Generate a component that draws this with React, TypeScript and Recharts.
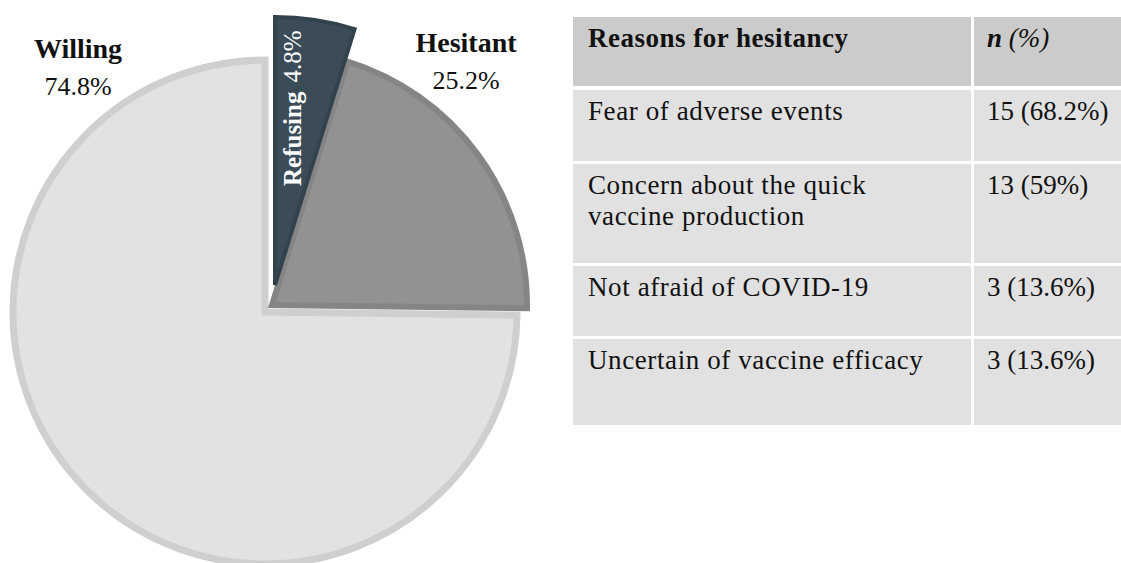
import { Cell, Pie, PieChart } from "recharts";

// pie slices, clockwise from 12 o'clock
const sliceNames = ["Refusing", "Hesitant", "Willing"];
const sliceValues = [4.8, 20.4, 74.8];
const sliceLabels = ["4.8%", "25.2%", "74.8%"];

// table on the right
const tableHeader = ["Reasons for hesitancy", "n", "(%)"];
const reasonLabels = [
  "Fear of adverse events",
  "Concern about the quick\nvaccine production",
  "Not afraid of COVID-19",
  "Uncertain of vaccine efficacy",
];
const reasonCounts = [15, 13, 3, 3];
const reasonPercents = ["68.2%", "59%", "13.6%", "13.6%"];

const FONT = "'Palatino Linotype', 'Book Antiqua', Palatino, 'Liberation Serif', serif";

const pieData = sliceNames.map((name, i) => ({ name, value: sliceValues[i], label: sliceLabels[i] }));

// each slice is drawn by its own Pie so it can be pulled out of the centre
const sliceStyle = [
  { cx: 275, cy: 285, r: 268, fill: "#3b4c58", stroke: "#33434e", sw: 4 },
  { cx: 272, cy: 305, r: 255, fill: "#929292", stroke: "#858585", sw: 6 },
  { cx: 265, cy: 312, r: 252, fill: "#e2e2e2", stroke: "#cfcfcf", sw: 7 },
];

const labelPos: Record<string, { x: number; y: number }> = {
  Refusing: { x: 301, y: 186 },
  Hesitant: { x: 466, y: 52 },
  Willing: { x: 78, y: 58 },
};

const renderLabel = (visible: number) => (props: any) => {
  if (props.index !== visible) return null;
  const name = props.name ?? props.payload?.name;
  const text = props.payload?.label ?? sliceLabels[visible];
  const pos = labelPos[name];
  if (!pos) return null;
  if (name === "Refusing") {
    return (
      <text
        x={pos.x}
        y={pos.y}
        transform={`rotate(-90 ${pos.x} ${pos.y})`}
        fill="#ffffff"
        fontFamily={FONT}
        fontSize={25}
        textAnchor="start"
      >
        <tspan fontWeight="bold">{name}</tspan>
        <tspan dx={9}>{text}</tspan>
      </text>
    );
  }
  return (
    <text x={pos.x} y={pos.y} fill="#111" fontFamily={FONT} textAnchor="middle">
      <tspan x={pos.x} fontWeight="bold" fontSize={28}>
        {name}
      </tspan>
      <tspan x={pos.x} dy={37} fontSize={26}>
        {text}
      </tspan>
    </text>
  );
};

const rowBounds = [
  [17, 86],
  [90, 161],
  [164, 263],
  [266, 336],
  [339, 425],
];

function ReasonsTable() {
  const colLeft = [573, 974];
  const colRight = [971, 1121];
  const cell = (key: string, row: number, col: number, bg: string, content: any, spacing = 0) => (
    <div
      key={key}
      style={{
        position: "absolute",
        left: colLeft[col],
        top: rowBounds[row][0],
        width: colRight[col] - colLeft[col],
        height: rowBounds[row][1] - rowBounds[row][0],
        background: bg,
        boxSizing: "border-box",
        paddingLeft: col === 0 ? 15 : 13,
        paddingTop: 6,
        fontFamily: FONT,
        fontSize: 27,
        lineHeight: "31px",
        letterSpacing: spacing,
        color: "#111",
        whiteSpace: "pre-line",
      }}
    >
      {content}
    </div>
  );
  return (
    <>
      {cell("h0", 0, 0, "#cbcbcb", <b>{tableHeader[0]}</b>, 0.5)}
      {cell(
        "h1",
        0,
        1,
        "#cbcbcb",
        <span>
          <b>
            <i>{tableHeader[1]}</i>
          </b>{" "}
          <i>{tableHeader[2]}</i>
        </span>
      )}
      {reasonLabels.map((label, i) => [
        cell(`r${i}a`, i + 1, 0, "#e1e1e1", label, 0.6),
        cell(`r${i}b`, i + 1, 1, "#e1e1e1", `${reasonCounts[i]} (${reasonPercents[i]})`),
      ])}
    </>
  );
}

export default function App() {
  const order = [2, 1, 0];
  return (
    <div
      style={{
        position: "fixed",
        left: 0,
        top: 0,
        width: 1121,
        height: 563,
        background: "#fff",
        overflow: "hidden",
      }}
    >
      <div style={{ position: "absolute", left: 0, top: 0 }}>
        <PieChart width={560} height={563} margin={{ top: 0, right: 0, bottom: 0, left: 0 }}>
          {order.map((s) => (
            <Pie
              key={sliceNames[s]}
              data={pieData}
              dataKey="value"
              nameKey="name"
              cx={sliceStyle[s].cx}
              cy={sliceStyle[s].cy}
              innerRadius={0}
              outerRadius={sliceStyle[s].r}
              startAngle={90}
              endAngle={-270}
              label={renderLabel(s)}
              labelLine={false}
              isAnimationActive={false}
            >
              {pieData.map((d, i) => (
                <Cell
                  key={d.name}
                  fill={i === s ? sliceStyle[s].fill : "none"}
                  stroke={i === s ? sliceStyle[s].stroke : "none"}
                  strokeWidth={i === s ? sliceStyle[s].sw : 0}
                />
              ))}
            </Pie>
          ))}
        </PieChart>
      </div>
      <ReasonsTable />
    </div>
  );
}
